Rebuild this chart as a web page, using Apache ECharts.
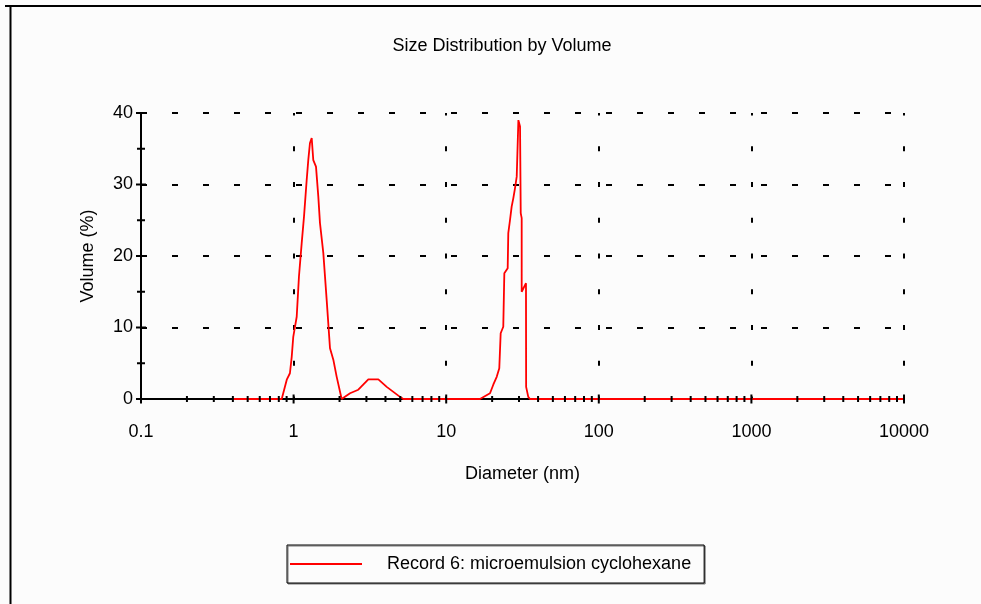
<!DOCTYPE html>
<html><head><meta charset="utf-8">
<script src="https://cdn.jsdelivr.net/npm/echarts@6/dist/echarts.min.js"></script>
<style>html,body{margin:0;padding:0;background:#fcfcfc}#c{width:981px;height:604px}</style>
</head><body><div id="c"></div>
<script>
const titleText = 'Size Distribution by Volume';
const seriesName = 'Record 6: microemulsion cyclohexane';
const xAxisName = 'Diameter (nm)';
const yAxisName = 'Volume (%)';
// size distribution (diameter nm, volume %)
const diameters = [0.4, 0.836, 0.902, 0.946, 0.972, 0.995, 1.048, 1.084, 1.130, 1.170, 1.218, 1.248, 1.280, 1.314, 1.346, 1.402, 1.452, 1.489, 1.566, 1.648, 1.732, 1.821, 1.916, 2.065, 2.344, 2.655, 3.088, 3.592, 4.075, 4.980, 5.235,
  16.65, 19.37, 20.35, 21.43, 22.28, 22.75, 23.66, 24.04, 25.29, 25.52, 26.18, 26.85, 27.54, 28.25, 28.98, 29.72, 30.47, 30.79, 31.24, 31.24, 33.33, 33.40, 34.5, 35.4, 10000];
const volumes = [0, 0, 2.7, 3.6, 5.9, 8.7, 11.5, 17.1, 21.8, 25.5, 30.6, 33.4, 35.8, 36.5, 33.4, 32.5, 28.3, 24.6, 20.4, 13.8, 7.1, 5.5, 3.1, 0, 0.8, 1.3, 2.75, 2.75, 1.7, 0.3, 0,
  0, 0.8, 2.0, 3.1, 4.3, 9.2, 10.1, 17.6, 18.3, 23.2, 25.0, 26.9, 28.1, 29.5, 31.1, 39.0, 38.1, 26.0, 25.3, 15.0, 16.2, 1.7, 0.3, 0, 0];
const xTickLabels = ['0.1', '1', '10', '100', '1000', '10000'];
const xMajorValues = [0.1, 1, 10, 100, 1000, 10000];
const xMinorValues = [0.2,0.3,0.4,0.5,0.6,0.7,0.8,0.9, 2,3,4,5,6,7,8,9, 20,30,40,50,60,70,80,90, 200,300,400,500,600,700,800,900, 2000,3000,4000,5000,6000,7000,8000,9000];
const yMajorValues = [0, 10, 20, 30, 40];
const yMinorValues = [5, 15, 25, 35];

const lineData = diameters.map((d, i) => [d, volumes[i]]);
const tickData = [];
xMajorValues.forEach(v => tickData.push([v, 0, 0]));
xMinorValues.forEach(v => tickData.push([v, 0, 1]));
yMajorValues.forEach(v => tickData.push([0.1, v, 2]));
yMinorValues.forEach(v => tickData.push([0.1, v, 3]));

const FONT = '"Liberation Sans", Arial, sans-serif';
const chart = echarts.init(document.getElementById('c'), null, {renderer: 'canvas'});
chart.setOption({
  animation: false,
  backgroundColor: '#fcfcfc',
  title: {
    text: titleText, left: 497, top: 32, textAlign: 'center',
    textStyle: {fontFamily: FONT, fontSize: 18, fontWeight: 'normal', color: '#000'}
  },
  grid: {left: 141, right: 77, top: 113, bottom: 205},
  legend: {
    data: [seriesName], left: 287, top: 545, orient: 'horizontal',
    icon: 'rect', itemWidth: 72, itemHeight: 2,
    padding: [9, 13, 9, 3],
    borderColor: '#000', borderWidth: 1, backgroundColor: '#fcfcfc',
    shadowColor: '#777', shadowOffsetX: 1, shadowOffsetY: 1, shadowBlur: 0,
    textStyle: {fontFamily: FONT, fontSize: 18, color: '#000', lineHeight: 20, padding: [0, 0, 0, 20]}
  },
  xAxis: {
    type: 'log', logBase: 10, min: 0.1, max: 10000,
    name: xAxisName, nameLocation: 'middle', nameGap: 66,
    nameTextStyle: {fontFamily: FONT, fontSize: 18, color: '#000'},
    axisLine: {show: true, onZero: false, lineStyle: {color: '#000', width: 2}},
    axisTick: {show: false},
    axisLabel: {
      margin: 24, fontFamily: FONT, fontSize: 18, color: '#000',
      formatter: v => xTickLabels[Math.round(Math.log10(v)) + 1]
    },
    splitLine: {show: true, lineStyle: {color: '#000', width: 2, type: [5, 30.75], dashOffset: 2.5}}
  },
  yAxis: {
    type: 'value', min: 0, max: 40, interval: 10,
    name: yAxisName, nameLocation: 'middle', nameGap: 44,
    nameTextStyle: {fontFamily: FONT, fontSize: 18, color: '#000'},
    axisLine: {show: true, lineStyle: {color: '#000', width: 2}},
    axisTick: {show: false},
    axisLabel: {margin: 8, fontFamily: FONT, fontSize: 18, color: '#000'},
    splitLine: {show: true, lineStyle: {color: '#000', width: 2, type: [6, 25], dashOffset: 0}}
  },
  graphic: [
    {type: 'line', shape: {x1: 5, y1: 6, x2: 981, y2: 6}, style: {stroke: '#000', lineWidth: 2}},
    {type: 'line', shape: {x1: 10.5, y1: 5, x2: 10.5, y2: 604}, style: {stroke: '#000', lineWidth: 2}}
  ],
  series: [
    {
      name: seriesName, type: 'line', data: lineData, showSymbol: false, symbol: 'none',
      lineStyle: {color: '#ff0000', width: 1.8}, itemStyle: {color: '#ff0000'}, z: 3
    },
    {
      name: 'ticks', type: 'custom', coordinateSystem: 'cartesian2d', data: tickData, z: 5, clip: false,
      silent: true,
      encode: {x: 0, y: 1},
      renderItem: function (params, api) {
        const kind = api.value(2);
        const p = api.coord([api.value(0), api.value(1)]);
        let s;
        if (kind === 0) s = {x1: p[0], y1: p[1] - 4.5, x2: p[0], y2: p[1] + 4.5};
        else if (kind === 1) s = {x1: p[0], y1: p[1] - 3, x2: p[0], y2: p[1] + 3};
        else if (kind === 2) s = {x1: p[0] - 5, y1: p[1], x2: p[0] + 5, y2: p[1]};
        else s = {x1: p[0] - 4, y1: p[1], x2: p[0] + 4, y2: p[1]};
        return {type: 'line', shape: s, style: {stroke: '#000', lineWidth: 2}};
      }
    }
  ]
});
</script></body></html>
